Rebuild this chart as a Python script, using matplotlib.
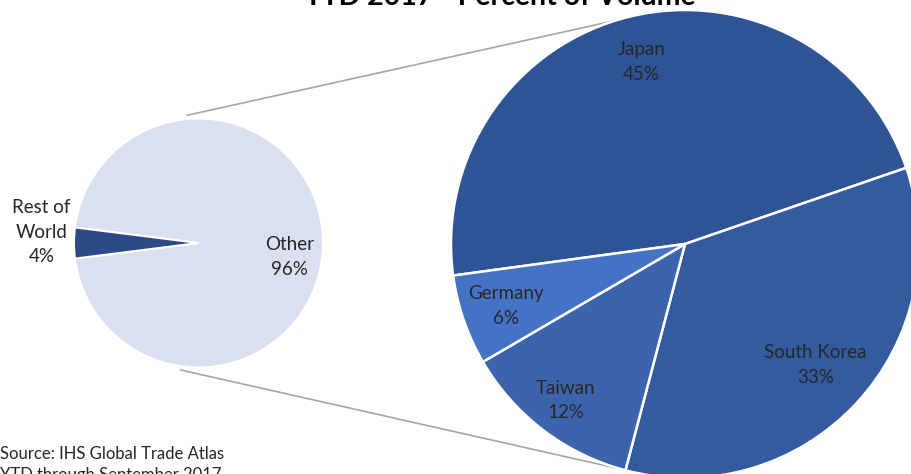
import numpy as np
import matplotlib.pyplot as plt

plt.rcParams['font.family'] = ['Lato', 'DejaVu Sans']

# overall split
main_labels = ['Other', 'Rest of\nWorld']
main_values = [96, 4]

# breakdown of "Other" (percent of total volume)
sub_labels = ['Japan', 'South Korea', 'Taiwan', 'Germany']
sub_values = [45, 33, 12, 6]

main_colors = ['#DAE0EF', '#2C4A87']
sub_colors = ['#2F5496', '#345AA0', '#3B64AD', '#4472C4']
text_color = '#262626'
label_size = 13.5
line_sp = 1.55

fig = plt.figure(figsize=(9.11, 4.74), dpi=100)
ax = fig.add_axes([0, 0, 1, 1])

# pie geometry in pixel units
c1, r1 = (198.5, 231), 124.5
c2, r2 = (685, 230), 234

# left pie: Rest of World centred on the left side
row_span = 360 * main_values[1] / sum(main_values)
ax.pie(main_values, colors=main_colors, center=c1, radius=r1,
       startangle=180 + row_span / 2, counterclock=True, frame=True,
       wedgeprops=dict(edgecolor='white', linewidth=1.5))

# right pie: Japan ends at the left, going clockwise
jap_span = 360 * sub_values[0] / sum(sub_values)
start2 = 19 + jap_span
ax.pie(sub_values, colors=sub_colors, center=c2, radius=r2,
       startangle=start2, counterclock=False, frame=True,
       wedgeprops=dict(edgecolor='white', linewidth=1.8))
ax.set_xlim(0, 911)
ax.set_ylim(0, 474)
ax.set_aspect('equal')
ax.axis('off')

# labels on the right pie
sub_rf = [0.80, 0.76, 0.84, 0.81]
ang = start2
for lab, val, rf in zip(sub_labels, sub_values, sub_rf):
    span = 360 * val / sum(sub_values)
    mid = np.deg2rad(ang - span / 2)
    ang -= span
    ax.text(c2[0] + rf * r2 * np.cos(mid), c2[1] + rf * r2 * np.sin(mid),
            f'{lab}\n{val}%', ha='center', va='center', fontsize=label_size,
            color=text_color, linespacing=line_sp)

# labels on the left pie
ax.text(c1[0] + 0.73 * r1, c1[1] - 14, f'{main_labels[0]}\n{main_values[0]}%',
        ha='center', va='center', fontsize=label_size, color=text_color, linespacing=line_sp)
ax.text(c1[0] - 1.26 * r1, c1[1] + 11, f'{main_labels[1]}\n{main_values[1]}%',
        ha='center', va='center', fontsize=label_size, color=text_color, linespacing=line_sp)

# connector lines between the two pies
def edge(c, r, deg, k=1.0):
    t = np.deg2rad(deg)
    return c[0] + k * r * np.cos(t), c[1] + k * r * np.sin(t)

for a1, a2 in [(95, 107), (262, 254.5)]:
    x0, y0 = edge(c1, r1, a1, 1.03)
    x1, y1 = edge(c2, r2, a2, 1.0)
    ax.plot([x0, x1], [y0, y1], color='#A6A6A6', linewidth=1.2, zorder=0)

fig.text(499 / 911, 1 - 5 / 474, 'YTD 2017 - Percent of Volume', ha='center',
         va='baseline', fontsize=20.5, fontweight='bold', color='black')
fig.text(0.0, 1 - 459 / 474, 'Source: IHS Global Trade Atlas',
         ha='left', va='baseline', fontsize=12, color=text_color)
fig.text(0.0, 1 - 480 / 474, 'YTD through September 2017',
         ha='left', va='baseline', fontsize=12, color=text_color)

fig.savefig('out.png', dpi=100)
